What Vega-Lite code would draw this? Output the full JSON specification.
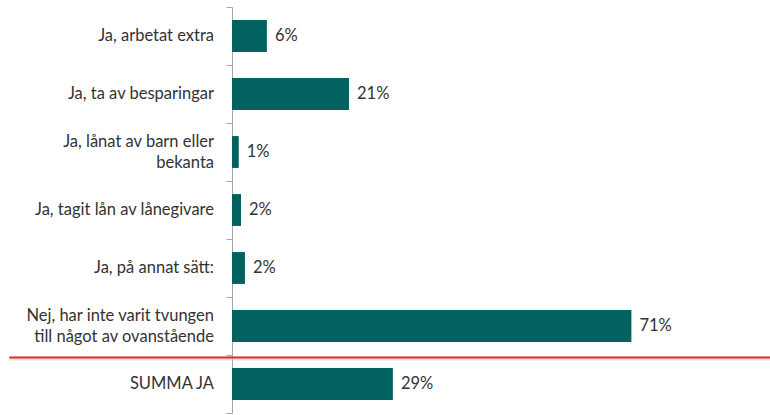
{
  "$schema": "https://vega.github.io/schema/vega-lite/v6.json",
  "width": 450,
  "height": 406,
  "padding": {"left": 8, "top": 6, "right": 0, "bottom": 0},
  "background": "white",
  "config": {"view": {"stroke": null}, "font": "Lato"},
  "data": {
    "values": [
      {"label": "Ja, arbetat extra", "value": 0.062, "lines": 1},
      {"label": "Ja, ta av besparingar", "value": 0.208, "lines": 1},
      {"label": "Ja, lånat av barn eller|bekanta", "value": 0.012, "lines": 2},
      {"label": "Ja, tagit lån av lånegivare", "value": 0.016, "lines": 1},
      {"label": "Ja, på annat sätt:", "value": 0.023, "lines": 1},
      {"label": "Nej, har inte varit tvungen|till något av ovanstående", "value": 0.71, "lines": 2},
      {"label": "SUMMA JA", "value": 0.286, "lines": 1}
    ]
  },
  "encoding": {
    "y": {
      "field": "label",
      "type": "nominal",
      "sort": null,
      "scale": {"paddingInner": 0, "paddingOuter": 0},
      "axis": {
        "title": null,
        "labels": false,
        "tickSize": 6,
        "tickColor": "#a6a6a6",
        "domainColor": "#a6a6a6",
        "bandPosition": 1,
        "tickExtra": true
      }
    }
  },
  "layer": [
    {
      "mark": {"type": "bar", "color": "#02625f", "height": {"band": 0.55}},
      "encoding": {
        "x": {"field": "value", "type": "quantitative", "scale": {"domain": [0, 0.8], "nice": false}, "axis": null}
      }
    },
    {
      "mark": {"type": "text", "align": "left", "dx": 8, "fontSize": 16.5, "font": "Lato", "color": "#333333"},
      "encoding": {
        "x": {"field": "value", "type": "quantitative"},
        "text": {"field": "value", "type": "quantitative", "format": ".0%"}
      }
    },
    {
      "transform": [{"filter": "datum.lines == 1"}],
      "mark": {"type": "text", "align": "right", "baseline": "middle", "dx": -18, "fontSize": 16.5, "font": "Lato", "color": "#333333"},
      "encoding": {
        "x": {"datum": 0},
        "text": {"field": "label"}
      }
    },
    {
      "transform": [{"filter": "datum.lines == 2"}],
      "mark": {"type": "text", "align": "right", "baseline": "middle", "dx": -18, "dy": -10, "lineBreak": "|", "lineHeight": 21, "fontSize": 16.5, "font": "Lato", "color": "#333333"},
      "encoding": {
        "x": {"datum": 0},
        "text": {"field": "label"}
      }
    },
    {
      "transform": [{"filter": "datum.label == 'SUMMA JA'"}],
      "mark": {"type": "rule", "color": "#cccccc", "strokeWidth": 2, "yOffset": 4.5, "opacity": 0.6},
      "encoding": {
        "y": {"field": "label", "type": "nominal", "sort": null, "bandPosition": 0},
        "x": {"datum": -0.396},
        "x2": {"datum": 0.958}
      }
    },
    {
      "transform": [{"filter": "datum.label == 'SUMMA JA'"}],
      "mark": {"type": "rule", "color": "#e0242c", "strokeWidth": 2, "yOffset": 2.5},
      "encoding": {
        "y": {"field": "label", "type": "nominal", "sort": null, "bandPosition": 0},
        "x": {"datum": -0.396},
        "x2": {"datum": 0.958}
      }
    }
  ]
}
